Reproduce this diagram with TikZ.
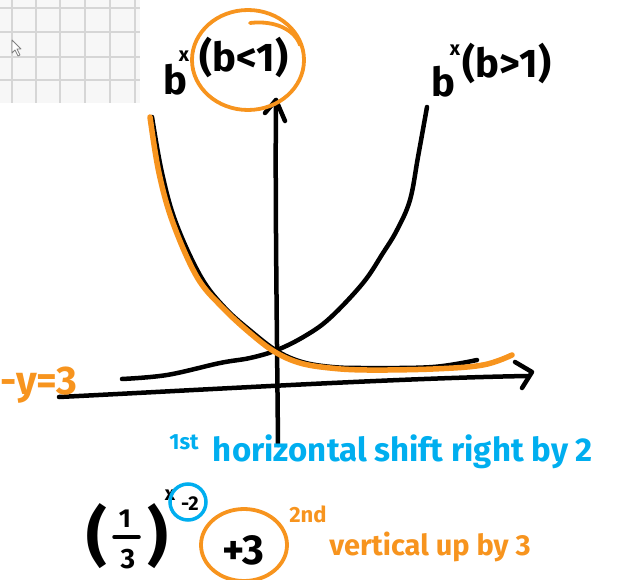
\documentclass[tikz,border=0pt]{standalone}
\usepackage{fontspec}
\setmainfont{Fira Sans}
\usetikzlibrary{shapes.geometric}
\definecolor{handorange}{RGB}{247,148,30}
\definecolor{handblue}{RGB}{0,174,239}
\definecolor{gridgray}{RGB}{214,214,214}
\newcommand{\fsz}[1]{\fontsize{#1}{#1}\selectfont\bfseries}
\begin{document}
\begin{tikzpicture}[x=1pt,y=-1pt,
  ink/.style={line width=4.5pt,line cap=round,line join=round},
  oink/.style={line width=5.5pt,line cap=round,line join=round,draw=handorange},
  lbl/.style={inner sep=0pt,anchor=center},
  ring/.style={ellipse,draw,line width=3.8pt,inner sep=0pt}]
\useasboundingbox (0,0) rectangle (618,580);
% grid panel
\fill[white!97!black] (0,0) rectangle (140,103);
\foreach \gx in {12,36,60,85,110,135}
  \draw[gridgray,line width=2pt] (\gx,0) -- (\gx,103);
\foreach \gy in {8,32,57,80}
  \draw[gridgray,line width=2pt] (0,\gy) -- (140,\gy);
\draw[gray,fill=white,line width=0.8pt,line join=round]
  (12,40) -- (12,53) -- (15,50) -- (18,56) -- (20,55) -- (17,49) -- (21,49) -- cycle;
% axes
\coordinate (ytop) at (276,100);
\coordinate (ybot) at (278,445);
\coordinate (xleft) at (59,397);
\coordinate (xright) at (528,376);
\draw[ink] (ybot) .. controls (277,330) and (275,200) .. (ytop);
\draw[ink] (265,113) -- (ytop) -- (285,121);
\draw[ink] (xleft) .. controls (200,390) and (400,378) .. (xright);
\draw[ink] (515,362) -- (532,372) -- (522,388);
% b>1 curve
\draw[ink] plot[smooth,tension=0.6] coordinates {(122,379) (167,375) (220,363) (250,358) (277,350) (305,336) (330,318) (363,283) (383,253) (397,230) (410,200) (418,157) (427,107)};
% b<1 curve (black)
\draw[ink] plot[smooth,tension=0.6] coordinates {(152,117) (162,173) (176,223) (201,277) (225,308) (252,332) (277,351) (302,362) (332,367) (367,368) (433,367) (477,360)};
% b<1 curve (orange)
\draw[oink] plot[smooth,tension=0.6] coordinates {(150,117) (159,173) (173,223) (197,277) (222,307) (250,333) (275,352) (300,363) (330,368) (367,370) (433,369) (483,365) (512,355)};
% top labels
\node[lbl,font=\fsz{40}] (bl) at (175,80) {b};
\node[lbl,font=\fsz{20}] (xl) at (184,56) {x};
\node[lbl,font=\fsz{40}] (condl) at (244,58) {(b<1)};
\node[ring,draw=handorange,minimum width=112pt,minimum height=100pt] (circl) at (248,60) {};
\draw[handorange,line width=3.8pt,line cap=round] (250,23) .. controls (275,20) and (295,30) .. (300,45);
\node[lbl,font=\fsz{40}] (br) at (443,82) {b};
\node[lbl,font=\fsz{20}] (xr) at (455,50) {x};
\node[lbl,font=\fsz{40}] (condr) at (507,64) {(b>1)};
% asymptote label
\node[lbl,anchor=west,text=handorange,font=\fsz{40}] (asym) at (0,385) {-y=3};
% blue note
\node[lbl,text=handblue,font=\fsz{22}] (first) at (184,442) {1st};
\node[lbl,text=handblue,font=\fsz{33}] (hshift) at (403,452) {horizontal shift right by 2};
% formula
\node[lbl,font=\fsz{64}] (lp) at (97,536) {(};
\node[lbl,font=\fsz{26}] (num) at (125,519) {1};
\draw[ink,line width=3.5pt] (114,537) -- (139,537);
\node[lbl,font=\fsz{28}] (den) at (128,559) {3};
\node[lbl,font=\fsz{64}] (rp) at (158,536) {)};
\node[lbl,font=\fsz{20}] (ex) at (170,495) {x};
\node[lbl,font=\fsz{20}] (m2) at (190,504) {-2};
\node[circle,draw=handblue,line width=3.5pt,minimum size=36pt,inner sep=0pt] (circm2) at (188,502) {};
\node[lbl,font=\fsz{42}] (p3) at (243,550) {+3};
\node[ring,draw=handorange,minimum width=86pt,minimum height=72pt] (circp3) at (244,545) {};
\node[lbl,text=handorange,font=\fsz{22}] (second) at (308,514) {2nd};
\node[lbl,text=handorange,font=\fsz{29}] (vshift) at (430,547) {vertical up by 3};
\end{tikzpicture}
\end{document}
